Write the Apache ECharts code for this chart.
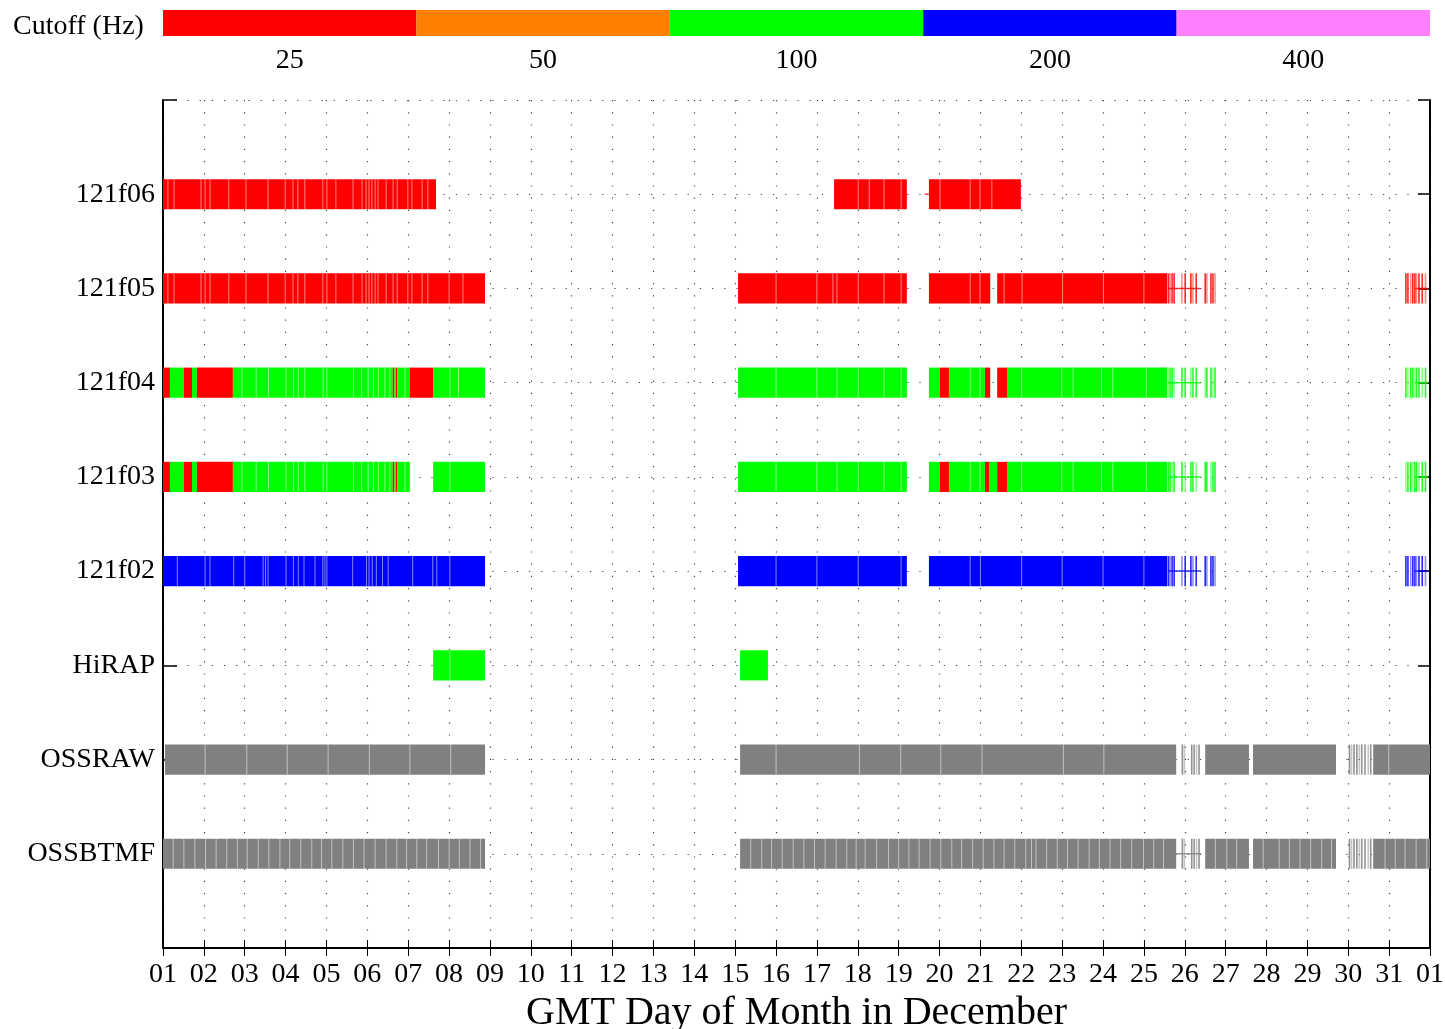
<!DOCTYPE html>
<html>
<head>
<meta charset="utf-8">
<script src="https://cdn.jsdelivr.net/npm/echarts@6/dist/echarts.min.js"></script>
<style>
  html, body { margin: 0; padding: 0; background: #fff; }
  #chart { width: 1445px; height: 1029px; }
</style>
</head>
<body>
<div id="chart"></div>
<script>
// Day-of-month tick labels: 1..31 December, then 01 January
const dayLabels = ['01','02','03','04','05','06','07','08','09','10','11','12','13','14','15','16',
  '17','18','19','20','21','22','23','24','25','26','27','28','29','30','31','01'];

// Instrument rows, bottom (y = 1) to top (y = 8)
const rowNames = ['OSSBTMF', 'OSSRAW', 'HiRAP', '121f02', '121f03', '121f04', '121f05', '121f06'];

// Cutoff frequency legend
const cutoffHz = ['25', '50', '100', '200', '400'];
const cutoffColors = ['#ff0000', '#ff8000', '#00ff00', '#0000ff', '#ff80ff'];
const ossColor = '#808080';
const palette = cutoffColors.concat([ossColor]); // colour key 5 = OSS data

// Data spans per row: [startDay, endDay, colourKey]
const spans121f06 = [[1.00, 7.68, 0], [17.42, 19.20, 0], [19.74, 21.99, 0]];
const spans121f05 = [[1.00, 8.88, 0], [15.07, 19.20, 0], [19.74, 21.24, 0], [21.41, 25.57, 0]];
const spans121f04 = [[1.00, 1.17, 0], [1.17, 1.51, 2], [1.51, 1.71, 0], [1.71, 1.83, 2], [1.83, 2.71, 0],
  [2.71, 6.62, 2], [6.62, 6.66, 0], [6.66, 6.70, 2], [6.70, 6.73, 0], [6.73, 7.04, 2], [7.04, 7.61, 0],
  [7.61, 8.88, 2], [15.07, 19.20, 2], [19.74, 20.01, 2], [20.01, 20.23, 0], [20.23, 21.11, 2],
  [21.11, 21.24, 0], [21.41, 21.65, 0], [21.65, 25.57, 2]];
const spans121f03 = [[1.00, 1.17, 0], [1.17, 1.51, 2], [1.51, 1.71, 0], [1.71, 1.83, 2], [1.83, 2.71, 0],
  [2.71, 6.62, 2], [6.62, 6.66, 0], [6.66, 6.70, 2], [6.70, 6.73, 0], [6.73, 7.04, 2],
  [7.61, 8.88, 2], [15.07, 19.20, 2], [19.74, 20.01, 2], [20.01, 20.23, 0], [20.23, 21.11, 2],
  [21.11, 21.21, 0], [21.21, 21.41, 2], [21.41, 21.65, 0], [21.65, 25.57, 2]];
const spans121f02 = [[1.00, 8.88, 3], [15.07, 19.20, 3], [19.74, 25.57, 3]];
const spansHiRAP = [[7.61, 8.88, 2], [15.12, 15.80, 2]];
const spansOSSRAW = [[1.05, 8.88, 5], [15.12, 25.79, 5], [26.50, 27.57, 5], [27.67, 29.70, 5], [30.61, 32.00, 5]];
const spansOSSBTMF = [[1.00, 8.88, 5], [15.12, 25.79, 5], [26.50, 27.57, 5], [27.67, 29.70, 5], [30.61, 32.00, 5]];

// File boundaries inside the spans (thin light lines), in days
const cuts121f06 = [1.12, 1.27, 1.93, 2.03, 2.15, 2.61, 3.03, 3.57, 3.99, 4.18, 4.30, 4.47, 4.91, 5.01, 5.23,
  5.65, 5.87, 5.97, 6.04, 6.11, 6.19, 6.26, 6.46, 6.63, 6.73, 6.99, 7.09, 7.34, 7.48,
  18.01, 18.28, 18.64, 19.06, 20.01, 20.75, 20.99, 21.28];
const cuts121f05 = [1.12, 1.27, 1.93, 2.03, 2.15, 2.61, 3.03, 3.57, 3.99, 4.18, 4.30, 4.47, 4.91, 5.01, 5.23,
  5.65, 5.87, 5.97, 6.04, 6.11, 6.19, 6.26, 6.46, 6.63, 6.73, 6.99, 7.09, 7.34, 7.48, 8.00, 8.34,
  16.00, 17.00, 17.39, 17.49, 18.01, 18.64, 19.06, 20.75, 20.99, 21.58, 22.02, 23.01, 24.01, 25.00];
const cuts121f04 = [2.93, 3.28, 3.58, 4.01, 4.19, 4.31, 4.47, 4.92, 5.01, 5.66, 5.86, 6.02, 6.15, 6.27, 6.43,
  6.55, 6.92, 8.02, 8.23, 16.00, 17.00, 17.49, 18.01, 18.64, 19.06, 20.75, 20.99, 22.01, 22.99, 23.27,
  23.96, 24.24, 25.06];
const cuts121f03 = [2.93, 3.28, 3.58, 4.01, 4.19, 4.31, 4.47, 4.92, 5.01, 5.66, 5.86, 6.02, 6.15, 6.27, 6.43,
  6.55, 6.92, 8.02, 16.00, 17.00, 17.49, 18.01, 18.64, 19.06, 20.75, 20.99, 22.01, 22.99, 23.27,
  23.96, 24.24, 25.06];
const cuts121f02 = [1.35, 2.03, 2.15, 2.73, 3.00, 3.45, 3.51, 3.57, 4.01, 4.19, 4.31, 4.45, 4.72, 4.91, 4.96,
  5.01, 5.64, 5.98, 6.04, 6.12, 6.22, 6.37, 6.51, 7.11, 7.60, 7.70, 8.02,
  16.00, 17.00, 18.01, 19.06, 20.75, 21.00, 22.01, 23.00, 24.00, 25.00];
const cutsHiRAP = [8.02];
const cutsOSSRAW = [2.03, 3.05, 4.04, 5.04, 6.05, 7.04, 8.04, 16.00, 18.04, 19.05, 20.03, 21.04, 23.03,
  24.02, 30.99];
const cutsOSSBTMF = [1.25, 1.51, 1.78, 2.04, 2.30, 2.56, 2.82, 3.06, 3.33, 3.59, 3.86, 4.10, 4.37, 4.64, 4.88,
  5.13, 5.40, 5.66, 5.92, 6.19, 6.46, 6.72, 6.96, 7.21, 7.45, 7.74, 8.00, 8.25, 8.51, 8.77,
  15.38, 15.65, 15.89, 16.15, 16.42, 16.68, 16.94, 17.20, 17.47, 17.73, 17.96, 18.18, 18.46, 18.75, 19.00,
  19.25, 19.50, 19.77, 20.03, 20.30, 20.54, 20.81, 21.07, 21.33, 21.58, 21.84, 22.11, 22.25, 22.36,
  22.62, 22.88, 23.13, 23.39, 23.66, 23.91, 24.17, 24.43, 24.70, 24.99, 25.24, 25.48,
  26.75, 27.03, 27.27, 27.92, 28.31, 28.56, 28.82, 29.08, 29.35, 29.59,
  30.90, 31.15, 31.39, 31.66, 31.92];

// Sparse single files (thin vertical strokes), in days
const sparse121f = [25.60, 25.64, 25.69, 25.74, 25.93, 26.01, 26.15, 26.20, 26.28, 26.50, 26.54, 26.64,
  26.69, 26.74, 31.41, 31.46, 31.53, 31.58, 31.63, 31.67, 31.73, 31.81, 31.89];
const sparseOSS = [25.94, 25.99, 26.17, 26.23, 26.29, 26.35, 30.03, 30.08, 30.14, 30.21, 30.27, 30.33,
  30.41, 30.49, 30.55];

// Thin connecting traces through sparse stretches: [startDay, endDay]
const traces121f = [[25.59, 26.39], [31.63, 31.95]];
const tracesOSSBTMF = [[25.74, 26.40]];
const traceHalfGap121f06 = [[19.64, 19.74]];

const rowSpans = [spansOSSBTMF, spansOSSRAW, spansHiRAP, spans121f02, spans121f03, spans121f04, spans121f05, spans121f06];
const rowCuts = [cutsOSSBTMF, cutsOSSRAW, cutsHiRAP, cuts121f02, cuts121f03, cuts121f04, cuts121f05, cuts121f06];
const rowSparse = [sparseOSS, sparseOSS, [], sparse121f, sparse121f, sparse121f, sparse121f, []];
const rowSparseColor = [5, 5, 2, 3, 2, 2, 0, 0];
const rowTraces = [tracesOSSBTMF, [], [], traces121f, traces121f, traces121f, traces121f, traceHalfGap121f06];

const BAR_HALF = 0.16;
const FONT = '"Liberation Serif", "DejaVu Serif", serif';

// Flatten into series data
const spanData = [], cutData = [], sparseData = [], traceData = [];
rowSpans.forEach((list, i) => list.forEach(s => spanData.push([i + 1, s[0], s[1], s[2]])));
rowCuts.forEach((list, i) => list.forEach(p => cutData.push([i + 1, p])));
rowSparse.forEach((list, i) => list.forEach(p => sparseData.push([i + 1, p, rowSparseColor[i]])));
rowTraces.forEach((list, i) => list.forEach(t => traceData.push([i + 1, t[0], t[1], rowSparseColor[i]])));

const chart = echarts.init(document.getElementById('chart'), null, { renderer: 'canvas' });

const dotted = { color: '#444', width: 1.2, type: [1.2, 11] };
const frameLine = { show: true, lineStyle: { color: '#000', width: 2 } };

const option = {
  backgroundColor: '#fff',
  animation: false,
  title: {
    text: 'Cutoff (Hz)', left: 8, top: 8,
    textStyle: { fontFamily: FONT, fontSize: 28, fontWeight: 'normal', color: '#000' }
  },
  grid: [
    { left: 163, right: 15, top: 100, bottom: 81, outerBoundsMode: 'none', containLabel: false },
    { left: 163, right: 15, top: 10, height: 26, outerBoundsMode: 'none', containLabel: false }
  ],
  xAxis: [
    {
      gridIndex: 0, type: 'value', min: 1, max: 32, interval: 1, position: 'bottom',
      axisLine: frameLine,
      axisTick: { show: true, inside: true, length: 8, lineStyle: { color: '#000', width: 1 } },
      axisLabel: {
        fontFamily: FONT, fontSize: 28, color: '#000', margin: 13,
        formatter: v => dayLabels[v - 1] || ''
      },
      splitLine: { show: true, lineStyle: dotted },
      name: 'GMT Day of Month in December', nameLocation: 'middle', nameGap: 42,
      nameTextStyle: { fontFamily: FONT, fontSize: 40, color: '#000' }
    },
    {
      gridIndex: 0, type: 'value', min: 1, max: 32, interval: 1, position: 'top',
      axisLine: frameLine,
      axisTick: { show: true, inside: true, length: 8, lineStyle: { color: '#000', width: 1 } },
      axisLabel: { show: false }, splitLine: { show: false }
    },
    {
      gridIndex: 1, type: 'category', data: cutoffHz,
      axisLine: { show: false }, axisTick: { show: false },
      axisLabel: { fontFamily: FONT, fontSize: 28, color: '#000', margin: 11 }
    }
  ],
  yAxis: [
    {
      gridIndex: 0, type: 'value', min: 0, max: 9, interval: 1, position: 'left',
      axisLine: frameLine,
      axisTick: { show: true, inside: true, length: 14, lineStyle: { color: '#000', width: 1.5 } },
      axisLabel: {
        fontFamily: FONT, fontSize: 28, color: '#000', margin: 8,
        formatter: v => rowNames[v - 1] || ''
      },
      splitLine: { show: true, lineStyle: dotted }
    },
    {
      gridIndex: 0, type: 'value', min: 0, max: 9, interval: 1, position: 'right',
      axisLine: frameLine,
      axisTick: { show: true, inside: true, length: 12, lineStyle: { color: '#000', width: 1.5 } },
      axisLabel: { show: false }, splitLine: { show: false }
    },
    { gridIndex: 1, type: 'value', min: 0, max: 1, show: false }
  ],
  series: [
    {
      // cutoff colour bar
      type: 'bar', xAxisIndex: 2, yAxisIndex: 2,
      barCategoryGap: 0, barGap: 0,
      data: cutoffHz.map((_, i) => ({ value: 1, itemStyle: { color: cutoffColors[i] } })),
      silent: true
    },
    {
      type: 'custom', xAxisIndex: 0, yAxisIndex: 0, silent: true, z: 3,
      data: spanData,
      encode: { x: [1, 2], y: 0 },
      renderItem: (params, api) => {
        const row = api.value(0);
        const p0 = api.coord([api.value(1), row + BAR_HALF]);
        const p1 = api.coord([api.value(2), row - BAR_HALF]);
        return {
          type: 'rect',
          shape: { x: p0[0], y: p0[1], width: p1[0] - p0[0], height: p1[1] - p0[1] },
          style: { fill: palette[api.value(3)] }
        };
      }
    },
    {
      type: 'custom', xAxisIndex: 0, yAxisIndex: 0, silent: true, z: 4,
      data: cutData,
      encode: { x: 1, y: 0 },
      renderItem: (params, api) => {
        const row = api.value(0);
        const a = api.coord([api.value(1), row + BAR_HALF]);
        const b = api.coord([api.value(1), row - BAR_HALF]);
        return {
          type: 'line',
          shape: { x1: a[0], y1: a[1], x2: b[0], y2: b[1] },
          style: { stroke: 'rgba(255,255,255,0.5)', lineWidth: 1 }
        };
      }
    },
    {
      type: 'custom', xAxisIndex: 0, yAxisIndex: 0, silent: true, z: 3,
      data: traceData,
      encode: { x: [1, 2], y: 0 },
      renderItem: (params, api) => {
        const row = api.value(0);
        const a = api.coord([api.value(1), row]);
        const b = api.coord([api.value(2), row]);
        return {
          type: 'line',
          shape: { x1: a[0], y1: a[1], x2: b[0], y2: b[1] },
          style: { stroke: palette[api.value(3)], lineWidth: 1.5, opacity: 0.8 }
        };
      }
    },
    {
      type: 'custom', xAxisIndex: 0, yAxisIndex: 0, silent: true, z: 3,
      data: sparseData,
      encode: { x: 1, y: 0 },
      renderItem: (params, api) => {
        const row = api.value(0);
        const a = api.coord([api.value(1), row + BAR_HALF]);
        const b = api.coord([api.value(1), row - BAR_HALF]);
        return {
          type: 'line',
          shape: { x1: a[0], y1: a[1], x2: b[0], y2: b[1] },
          style: { stroke: palette[api.value(2)], lineWidth: 1.6, opacity: params.dataIndex % 3 === 1 ? 0.45 : 0.85 }
        };
      }
    }
  ]
};

chart.setOption(option);
</script>
</body>
</html>
